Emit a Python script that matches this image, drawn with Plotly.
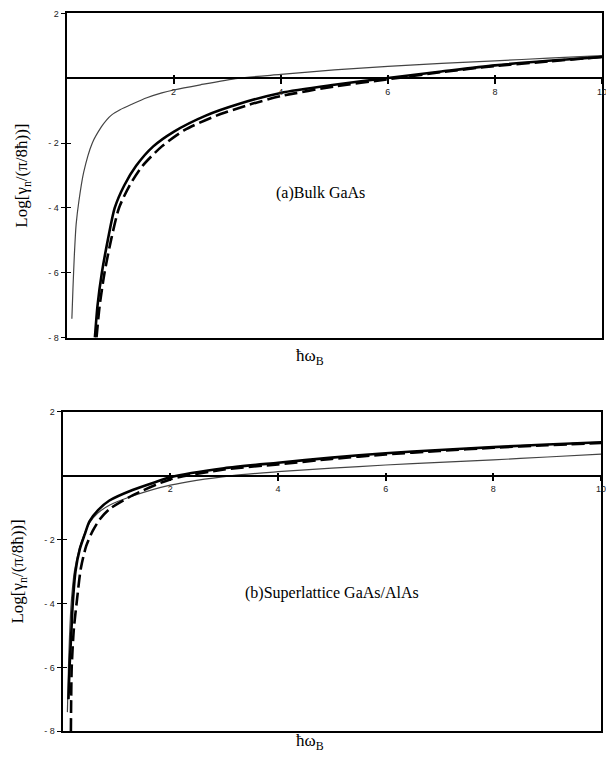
import plotly.graph_objects as go

# ---------------- data ----------------
# Panel (a) Bulk GaAs
a_thin_x = [0.10, 0.12, 0.145, 0.18, 0.23, 0.32, 0.48, 0.65, 0.75, 0.85, 1.0, 1.22, 1.5, 1.78, 2.0, 2.5, 3.2, 4.0, 5.0, 6.0, 7.0, 8.0, 9.0, 10.0]
a_thin_y = [-7.42, -6.5, -5.5, -4.5, -3.8, -2.9, -2.0, -1.5, -1.28, -1.12, -0.97, -0.8, -0.6, -0.45, -0.36, -0.2, 0.0, 0.12, 0.26, 0.37, 0.46, 0.54, 0.62, 0.70]

a_solid_x = [0.53, 0.58, 0.66, 0.77, 0.90, 1.08, 1.30, 1.62, 2.0, 2.6, 3.2, 4.0, 5.0, 6.0, 7.0, 8.0, 9.0, 10.0]
a_solid_y = [-8.0, -7.0, -6.0, -5.0, -4.0, -3.3, -2.7, -2.1, -1.65, -1.15, -0.8, -0.45, -0.2, 0.01, 0.21, 0.40, 0.54, 0.66]

a_dash_x = [0.56, 0.62, 0.71, 0.83, 0.98, 1.18, 1.42, 1.78, 2.2, 2.8, 3.4, 4.0, 5.0, 6.0, 7.0, 8.0, 9.0, 10.0]
a_dash_y = [-8.0, -7.0, -6.0, -5.0, -4.0, -3.3, -2.7, -2.1, -1.6, -1.15, -0.82, -0.55, -0.25, -0.03, 0.19, 0.38, 0.52, 0.66]

# Panel (b) Superlattice GaAs/AlAs
b_solid_x = [0.11, 0.13, 0.16, 0.19, 0.24, 0.32, 0.41, 0.50, 0.66, 0.87, 1.3, 1.73, 2.0, 3.0, 4.0, 5.0, 6.0, 7.0, 8.0, 9.0, 10.0]
b_solid_y = [-7.0, -6.0, -5.0, -4.0, -3.0, -2.3, -1.85, -1.43, -1.08, -0.78, -0.45, -0.2, -0.05, 0.23, 0.40, 0.56, 0.70, 0.80, 0.89, 0.97, 1.04]

b_thin_x = [0.09, 0.11, 0.13, 0.16, 0.22, 0.31, 0.40, 0.50, 0.65, 0.87, 1.3, 2.0, 3.15, 4.0, 5.0, 6.0, 7.0, 8.0, 9.0, 10.0]
b_thin_y = [-7.4, -6.0, -5.0, -4.0, -3.0, -2.3, -1.85, -1.48, -1.18, -0.93, -0.64, -0.3, 0.0, 0.12, 0.23, 0.33, 0.41, 0.49, 0.58, 0.67]

b_dash_x = [0.155, 0.16, 0.17, 0.21, 0.27, 0.34, 0.44, 0.56, 0.7, 0.87, 1.3, 2.0, 3.0, 4.0, 5.0, 6.0, 7.0, 8.0, 9.0, 10.0]
b_dash_y = [-8.0, -7.0, -6.0, -4.8, -3.86, -2.9, -2.2, -1.73, -1.35, -1.05, -0.62, -0.12, 0.19, 0.35, 0.52, 0.66, 0.77, 0.87, 0.95, 1.02]

x_tick_vals = [2, 4, 6, 8, 10]
y_tick_vals = [-8, -6, -4, -2, 2]
y_tick_text = [("- " + str(abs(v))) if v < 0 else str(v) for v in y_tick_vals]

label_a = "(a)Bulk GaAs"
label_b = "(b)Superlattice GaAs/AlAs"
y_title = "Log[γ<sub>n</sub>/(π/8ħ))]"
x_title = "ħω<sub>B</sub>"

# ---------------- layout geometry ----------------
PAGE_W, PAGE_H = 614, 766
OFF = 8                      # default body margin of the html page
W, H = PAGE_W - OFF, PAGE_H - 2 * OFF
XR = [0, 10]
YR = [-8, 2]

def clamp(v):
    return max(0.0, min(1.0, v))

def px_dom(x0, x1):
    return [clamp((x0 - OFF) / W), clamp((x1 - OFF) / W)]

def py_dom(top, bottom):
    return [clamp(1 - (bottom - OFF) / H), clamp(1 - (top - OFF) / H)]

def pfx(x):
    return (x - OFF) / W

def pfy(y):
    return 1 - (y - OFF) / H

dom_xa = px_dom(67, 607)
dom_ya = py_dom(8.5, 337)
dom_xb = px_dom(63, 606)
dom_yb = py_dom(412, 736)

def zero_pos(dom):
    return dom[0] + (0 - YR[0]) / (YR[1] - YR[0]) * (dom[1] - dom[0])

fig = go.Figure()

serif = "Liberation Serif"
sans = "Liberation Sans"

def add_curve(x, y, xa, ya, style):
    if style == "thin":
        line = dict(color="#444444", width=1.2, shape="spline", smoothing=0.7)
    elif style == "solid":
        line = dict(color="black", width=2.6, shape="spline", smoothing=0.7)
    else:
        line = dict(color="black", width=2.6, dash="13px,5px", shape="spline", smoothing=0.7)
    fig.add_trace(go.Scatter(x=x, y=y, mode="lines", line=line, xaxis=xa, yaxis=ya,
                             showlegend=False, hoverinfo="skip"))

add_curve(a_thin_x, a_thin_y, "x", "y", "thin")
add_curve(a_dash_x, a_dash_y, "x", "y", "dash")
add_curve(a_solid_x, a_solid_y, "x", "y", "solid")

add_curve(b_thin_x, b_thin_y, "x2", "y2", "thin")
add_curve(b_dash_x, b_dash_y, "x2", "y2", "dash")
add_curve(b_solid_x, b_solid_y, "x2", "y2", "solid")

# empty traces so the overlay axes (crossing ticks) are drawn
for xa, ya in [("x3", "y"), ("x5", "y"), ("x", "y3"), ("x4", "y2"), ("x6", "y2"), ("x2", "y4")]:
    fig.add_trace(go.Scatter(x=[None], y=[None], mode="lines", xaxis=xa, yaxis=ya,
                             showlegend=False, hoverinfo="skip"))

frame_x = dict(range=XR, showgrid=False, zeroline=False, showline=True, mirror=True,
               linecolor="black", linewidth=1.5, ticks="", showticklabels=False, fixedrange=True)
frame_y = dict(range=YR, showgrid=False, zeroline=False, showline=True, mirror=True,
               linecolor="black", linewidth=1.5, ticks="outside", ticklen=4, tickwidth=1.2,
               tickcolor="black", tickvals=y_tick_vals, ticktext=y_tick_text,
               tickfont=dict(family=sans, size=9, color="#222"),
               title=dict(text=y_title, font=dict(family=serif, size=17, color="black"), standoff=16),
               fixedrange=True)

zero_out = dict(range=XR, anchor="free", showgrid=False, zeroline=False, showline=True,
                linecolor="black", linewidth=1.5, ticks="outside", ticklen=5, tickwidth=1.5,
                tickcolor="black", tickvals=x_tick_vals,
                tickfont=dict(family=sans, size=9, color="#222"), fixedrange=True)
zero_in = dict(range=XR, anchor="free", showgrid=False, zeroline=False, showline=False,
               ticks="inside", ticklen=3, tickwidth=1.5, tickcolor="black", tickvals=x_tick_vals,
               showticklabels=False, fixedrange=True)
y_in = dict(range=YR, showgrid=False, zeroline=False, showline=False, ticks="inside", ticklen=4,
            tickwidth=1.2, tickcolor="black", tickvals=y_tick_vals, showticklabels=False,
            fixedrange=True)

fig.update_layout(
    width=W, height=H,
    margin=dict(l=0, r=0, t=0, b=0),
    paper_bgcolor="white", plot_bgcolor="white",
    showlegend=False,
    xaxis=dict(frame_x, domain=dom_xa, anchor="y"),
    yaxis=dict(frame_y, domain=dom_ya, anchor="x", linewidth=2),
    xaxis2=dict(frame_x, domain=dom_xb, anchor="y2"),
    yaxis2=dict(frame_y, domain=dom_yb, anchor="x2", linewidth=2),
    xaxis3=dict(zero_out, domain=dom_xa, overlaying="x", position=zero_pos(dom_ya)),
    xaxis5=dict(zero_in, domain=dom_xa, overlaying="x", position=zero_pos(dom_ya)),
    xaxis4=dict(zero_out, domain=dom_xb, overlaying="x2", position=zero_pos(dom_yb)),
    xaxis6=dict(zero_in, domain=dom_xb, overlaying="x2", position=zero_pos(dom_yb)),
    yaxis3=dict(y_in, domain=dom_ya, overlaying="y", anchor="x"),
    yaxis4=dict(y_in, domain=dom_yb, overlaying="y2", anchor="x2"),
    annotations=[
        dict(text=label_a, x=4.74, y=-3.53, xref="x", yref="y", showarrow=False,
             xanchor="center", yanchor="middle",
             font=dict(family=serif, size=16, color="black")),
        dict(text=label_b, x=5.0, y=-3.68, xref="x2", yref="y2", showarrow=False,
             xanchor="center", yanchor="middle",
             font=dict(family=serif, size=16, color="black")),
        dict(text=x_title, x=pfx(313), y=pfy(357), xref="paper", yref="paper", showarrow=False,
             xanchor="center", yanchor="middle",
             font=dict(family=serif, size=17, color="black")),
        dict(text=x_title, x=pfx(313), y=pfy(747), xref="paper", yref="paper", showarrow=False,
             xanchor="center", yanchor="middle",
             font=dict(family=serif, size=17, color="black")),
    ],
)

fig.write_html("out.html")
